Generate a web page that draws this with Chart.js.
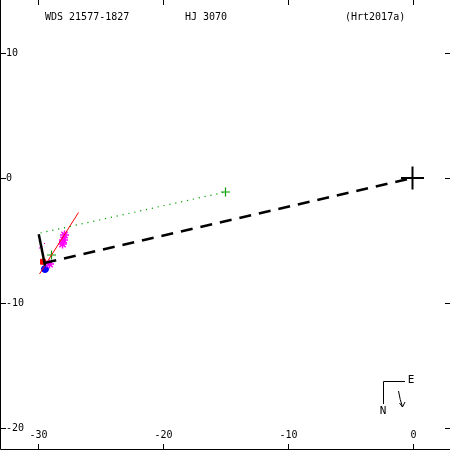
<!DOCTYPE html>
<html><head><meta charset="utf-8">
<script src="https://cdn.jsdelivr.net/npm/chart.js@4"></script>
<style>html,body{margin:0;padding:0;background:#fff}#wrap{width:450px;height:450px}</style>
</head><body><div id="wrap"><canvas id="c" width="450" height="450"></canvas></div>
<script>
const xTicks = [-30, -20, -10, 0];
const yTicks = [10, 0, -10, -20];
const titleTexts = ["WDS 21577-1827", "HJ 3070", "(Hrt2017a)"];
const origin = [{x: 0, y: 0}];
const predictedLine = [{x: -29.44, y: -6.8}, {x: 0, y: 0}];
const residualLine = [{x: -29.9, y: -4.5}, {x: -29.4, y: -7.0}];
const motionLine = [{x: -29.84, y: -7.68}, {x: -26.72, y: -2.76}];
const dottedLine = [{x: -29.76, y: -4.4}, {x: -14.96, y: -1.12}];
const greenCrosses = [{x: -14.96, y: -1.12}, {x: -28.88, y: -6.16}];
const magentaStars = [{x: -27.84, y: -4.56}, {x: -27.92, y: -4.96}, {x: -28.0, y: -5.28}, {x: -29.04, y: -6.88}];
const magentaDots = [{x: -29.84, y: -5.6}, {x: -29.62, y: -5.5}, {x: -29.44, y: -5.24}];
const redSquare = [{x: -29.56, y: -6.7}];
const blueCircle = [{x: -29.4, y: -7.28}];

const FONT = '10px "DejaVu Sans Mono", monospace';

const framePlugin = {
  id: 'frame',
  afterDraw(chart) {
    const ctx = chart.ctx, xs = chart.scales.x, ys = chart.scales.y;
    const W = chart.width, H = chart.height;
    ctx.save();
    ctx.strokeStyle = '#000'; ctx.lineWidth = 1;
    ctx.beginPath();
    ctx.moveTo(0.5, 0); ctx.lineTo(0.5, H - 0.5); ctx.lineTo(W, H - 0.5);
    ctx.stroke();
    ctx.fillStyle = '#000'; ctx.font = FONT;
    xTicks.forEach(v => {
      const px = Math.round(xs.getPixelForValue(v)) + 0.5;
      ctx.beginPath();
      ctx.moveTo(px, 0); ctx.lineTo(px, 5);
      ctx.moveTo(px, H); ctx.lineTo(px, H - 6);
      ctx.stroke();
      ctx.textAlign = 'center'; ctx.textBaseline = 'middle';
      ctx.fillText(String(v), px, 435);
    });
    yTicks.forEach(v => {
      const py = Math.round(ys.getPixelForValue(v)) + 0.5;
      ctx.beginPath();
      ctx.moveTo(0, py); ctx.lineTo(6, py);
      ctx.moveTo(W, py); ctx.lineTo(W - 5, py);
      ctx.stroke();
      ctx.textAlign = 'left'; ctx.textBaseline = 'middle';
      ctx.fillText(String(v), 6, py);
    });
    ctx.textAlign = 'left'; ctx.textBaseline = 'middle';
    ctx.fillText(titleTexts[0], 45, 17);
    ctx.fillText(titleTexts[1], 185, 17);
    ctx.fillText(titleTexts[2], 345, 17);
    // compass
    ctx.beginPath();
    ctx.moveTo(405, 381.5); ctx.lineTo(383.5, 381.5); ctx.lineTo(383.5, 404);
    ctx.stroke();
    ctx.font = '11px "DejaVu Sans Mono", monospace';
    ctx.textAlign = 'center';
    ctx.fillText('E', 411, 380);
    ctx.fillText('N', 383, 411);
    ctx.beginPath();
    ctx.moveTo(398.5, 391); ctx.quadraticCurveTo(400, 400, 402.5, 407);
    ctx.moveTo(399.5, 403); ctx.lineTo(402.5, 407); ctx.lineTo(405, 402);
    ctx.stroke();
    ctx.restore();
  }
};

new Chart(document.getElementById('c'), {
  type: 'scatter',
  data: {
    datasets: [
      {data: dottedLine, showLine: true, borderColor: '#00a000', borderWidth: 1.2, borderDash: [1.2, 4.8], pointRadius: 0},
      {data: predictedLine, showLine: true, borderColor: '#000', borderWidth: 2.5, borderDash: [12, 8], pointRadius: 0},
      {data: residualLine, showLine: true, borderColor: '#000', borderWidth: 2.5, pointRadius: 0},
      {data: motionLine, showLine: true, borderColor: '#ff0000', borderWidth: 1, pointRadius: 0},
      {data: magentaDots, pointStyle: 'rect', pointRadius: 0.8, backgroundColor: '#ff00ff', borderColor: '#ff00ff', borderWidth: 0},
      {data: redSquare, pointStyle: 'rect', pointRadius: 3.5, backgroundColor: '#ff0000', borderColor: '#ff0000', borderWidth: 1},
      {data: magentaStars, pointStyle: 'star', pointRadius: 4.5, borderColor: '#ff00ff', borderWidth: 1.5},
      {data: blueCircle, pointStyle: 'circle', pointRadius: 3.5, backgroundColor: '#0000ff', borderColor: '#0000ff', borderWidth: 1},
      {data: greenCrosses, pointStyle: 'cross', pointRadius: 4.5, borderColor: '#00a000', borderWidth: 1.2},
      {data: origin, pointStyle: 'cross', pointRadius: 11.5, borderColor: '#000', borderWidth: 2}
    ]
  },
  options: {
    responsive: false, animation: false, maintainAspectRatio: false,
    layout: {padding: 0, autoPadding: false},
    plugins: {legend: {display: false}, tooltip: {enabled: false}},
    scales: {
      x: {type: 'linear', min: -33, max: 3, display: false},
      y: {type: 'linear', min: -21.76, max: 14.24, display: false}
    }
  },
  plugins: [framePlugin]
});
</script>
</body></html>
